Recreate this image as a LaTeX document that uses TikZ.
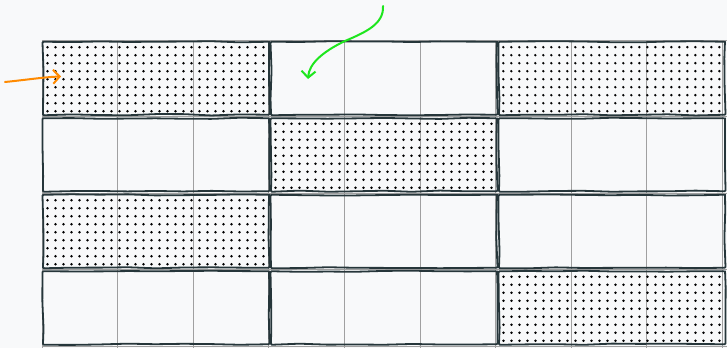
\documentclass[tikz,border=0pt]{standalone}
\usetikzlibrary{decorations.pathmorphing,arrows.meta}
\definecolor{ink}{HTML}{26363A}
\definecolor{gridc}{HTML}{A0A0A0}
\definecolor{bg}{HTML}{F8F9FA}
\definecolor{orng}{HTML}{FF8A00}
\definecolor{grn}{HTML}{1EE61E}
\tikzset{
  gridline/.style={draw=gridc, line width=0.8pt},
  block/.style={draw=ink, line width=1.8pt, minimum width=226pt, minimum height=73pt,
    inner sep=0pt, outer sep=0pt, rounded corners=1pt,
    decorate, decoration={random steps, segment length=28pt, amplitude=0.7pt}},
  dotfill/.style={path picture={
    \foreach \a in {0,...,28}{\foreach \b in {0,...,9}{
      \fill[black] ([shift={(5+8*\a,6+8*\b)}]path picture bounding box.north west) circle (1.35);}}}},
  sketcharrow/.style={line width=2pt, line cap=round,
    -{Straight Barb[length=6.5pt,width=14pt,line width=2pt]}}
}
\begin{document}
\begin{tikzpicture}[x=1pt,y=-1pt]
\fill[bg] (0,0) rectangle (727,348);
\useasboundingbox (0,0) rectangle (727,348);
% thin grid
\foreach \i in {0,...,9}{\draw[gridline] (42+75.6*\i,40) -- (42+75.6*\i,348);}
\foreach \j in {0,...,4}{\draw[gridline] (42,40+76.5*\j) -- (727,40+76.5*\j);}
% blocks row 0
\node[block,dotfill] (a0) at (156,78.25) {};
\node[block]         (b0) at (384,78.25) {};
\node[block,dotfill] (c0) at (612,78.25) {};
% row 1
\node[block]         (a1) at (156,154.75) {};
\node[block,dotfill] (b1) at (384,154.75) {};
\node[block]         (c1) at (612,154.75) {};
% row 2
\node[block,dotfill] (a2) at (156,231.25) {};
\node[block]         (b2) at (384,231.25) {};
\node[block]         (c2) at (612,231.25) {};
% row 3
\node[block]         (a3) at (156,307.75) {};
\node[block]         (b3) at (384,307.75) {};
\node[block,dotfill] (c3) at (612,307.75) {};
% arrows
\coordinate (os) at (5,82);
\coordinate (oe) at (61,76.5);
\draw[sketcharrow, orng] (os) .. controls (25,80) and (45,77) .. (oe);
\coordinate (gs) at (383,6);
\coordinate (gm) at (345,41);
\coordinate (ge) at (308,79);
\draw[sketcharrow, grn] (gs) .. controls (384,24) and (366,32) .. (gm)
  .. controls (322,52) and (309,64) .. (ge);
\end{tikzpicture}
\end{document}
